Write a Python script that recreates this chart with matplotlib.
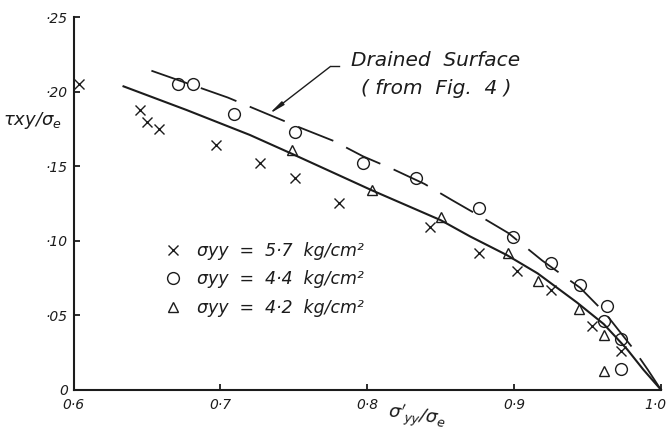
import matplotlib
matplotlib.use("Agg")
import matplotlib.pyplot as plt
import matplotlib.transforms as mtrans
from matplotlib.lines import Line2D

# test series: normalised effective stress vs normalised shear stress
x_57 = [0.604, 0.645, 0.650, 0.658, 0.697, 0.727, 0.751, 0.781, 0.843, 0.876,
        0.902, 0.925, 0.953, 0.973]
y_57 = [0.205, 0.188, 0.180, 0.175, 0.164, 0.152, 0.142, 0.1255, 0.109, 0.092,
        0.080, 0.067, 0.043, 0.026]

x_44 = [0.671, 0.681, 0.709, 0.751, 0.797, 0.833, 0.876, 0.899, 0.925, 0.945,
        0.963, 0.961, 0.973, 0.973]
y_44 = [0.205, 0.205, 0.185, 0.173, 0.152, 0.142, 0.122, 0.1025, 0.085, 0.070,
        0.056, 0.046, 0.034, 0.014]

x_42 = [0.749, 0.803, 0.850, 0.896, 0.9165, 0.944, 0.961, 0.961]
y_42 = [0.161, 0.134, 0.116, 0.092, 0.073, 0.054, 0.037, 0.0125]

# fitted undrained curve (solid)
fit_x = [0.634, 0.677, 0.720, 0.749, 0.803, 0.850, 0.870, 0.895, 0.916, 0.943,
         0.961, 0.977, 0.988, 1.000]
fit_y = [0.2036, 0.1877, 0.1710, 0.1582, 0.1339, 0.1138, 0.1029, 0.0904, 0.0781,
         0.0584, 0.0441, 0.0271, 0.0135, 0.0]

# drained surface from the earlier figure (dashed)
dr_x = [0.653, 0.679, 0.705, 0.732, 0.754, 0.777, 0.797, 0.818, 0.839, 0.858,
        0.876, 0.896, 0.919, 0.945, 0.962, 0.981, 0.991, 1.000]
dr_y = [0.2141, 0.2051, 0.1961, 0.1850, 0.1760, 0.1670, 0.1567, 0.1478, 0.1381,
        0.1271, 0.1169, 0.1052, 0.0868, 0.0684, 0.0514, 0.0277, 0.0135, 0.0]

x_ticks = [0.6, 0.7, 0.8, 0.9, 1.0]
x_ticklabels = ["0·6", "0·7", "0·8", "0·9", "1·0"]
y_ticks = [0.0, 0.05, 0.10, 0.15, 0.20, 0.25]
y_ticklabels = ["0", "·05", "·10", "·15", "·20", "·25"]

labels = ["σyy  =  5·7  kg/cm²", "σyy  =  4·4  kg/cm²", "σyy  =  4·2  kg/cm²"]

ink = "#1c1c1c"
plt.rcParams["font.family"] = "DejaVu Sans"
plt.rcParams["font.style"] = "oblique"
plt.rcParams["mathtext.fontset"] = "dejavusans"

fig = plt.figure(figsize=(6.69, 4.48), dpi=100)
ax = fig.add_axes([0.110, 0.130, 0.878, 0.8316])

ax.plot(fit_x, fit_y, color=ink, lw=1.5, clip_on=False)
ax.plot(dr_x, dr_y, color=ink, lw=1.3, dashes=(21, 8), clip_on=False)

mk = dict(linestyle="none", color=ink, mfc="none", mew=1.0, clip_on=False)
ax.plot(x_57, y_57, marker="x", ms=7.5, **mk)
ax.plot(x_44, y_44, marker="o", ms=8.5, **mk)
ax.plot(x_42, y_42, marker="^", ms=7.5, **mk)

ax.set_xlim(0.6, 1.0)
ax.set_ylim(0.0, 0.25)
for s in ["top", "right"]:
    ax.spines[s].set_visible(False)
for s in ["left", "bottom"]:
    ax.spines[s].set_linewidth(1.5)
    ax.spines[s].set_color(ink)

ax.set_xticks(x_ticks)
ax.set_xticklabels(x_ticklabels)
ax.set_yticks(y_ticks)
ax.set_yticklabels(y_ticklabels)
ax.tick_params(direction="in", length=4, width=1.3, colors=ink,
               labelsize=10, pad=4)
ax.tick_params(axis="x", pad=6)
# pull the last x label in a little so it stays on the page
last = ax.get_xticklabels()[-1]
last.set_transform(last.get_transform() +
                   mtrans.ScaledTranslation(-6 / 100, 0, fig.dpi_scale_trans))

fig.text(0.049, 0.732, r"$\tau xy/\sigma_e$", fontsize=13, color=ink,
         ha="center", va="center")
fig.text(0.623, 0.068, r"$\sigma'_{yy}/\sigma_e$", fontsize=13, color=ink,
         ha="center", va="center", rotation=-8)

# annotation for the drained surface
ax.text(0.789, 0.221, "Drained  Surface", fontsize=14.5, color=ink, va="center")
ax.text(0.796, 0.202, "( from  Fig.  4 )", fontsize=14.5, color=ink, va="center")
ax.annotate("", xy=(0.733, 0.185), xytext=(0.775, 0.217),
            arrowprops=dict(arrowstyle="-|>,head_length=0.9,head_width=0.12",
                            color=ink, lw=1.0, shrinkA=0, shrinkB=0))
ax.plot([0.775, 0.781], [0.217, 0.217], color=ink, lw=1.0)

handles = [Line2D([], [], marker=m, ms=s, **mk) for m, s in
           [("x", 7.5), ("o", 8.5), ("^", 7.5)]]
ax.legend(handles, labels, loc="upper left", bbox_to_anchor=(0.2450, 0.460),
          bbox_transform=fig.transFigure, frameon=False, handlelength=1.0,
          handletextpad=0.9, labelspacing=0.6, borderpad=0, borderaxespad=0,
          prop=dict(size=12.5, style="oblique"), labelcolor=ink)

fig.savefig("out.png", dpi=100, facecolor="white")
